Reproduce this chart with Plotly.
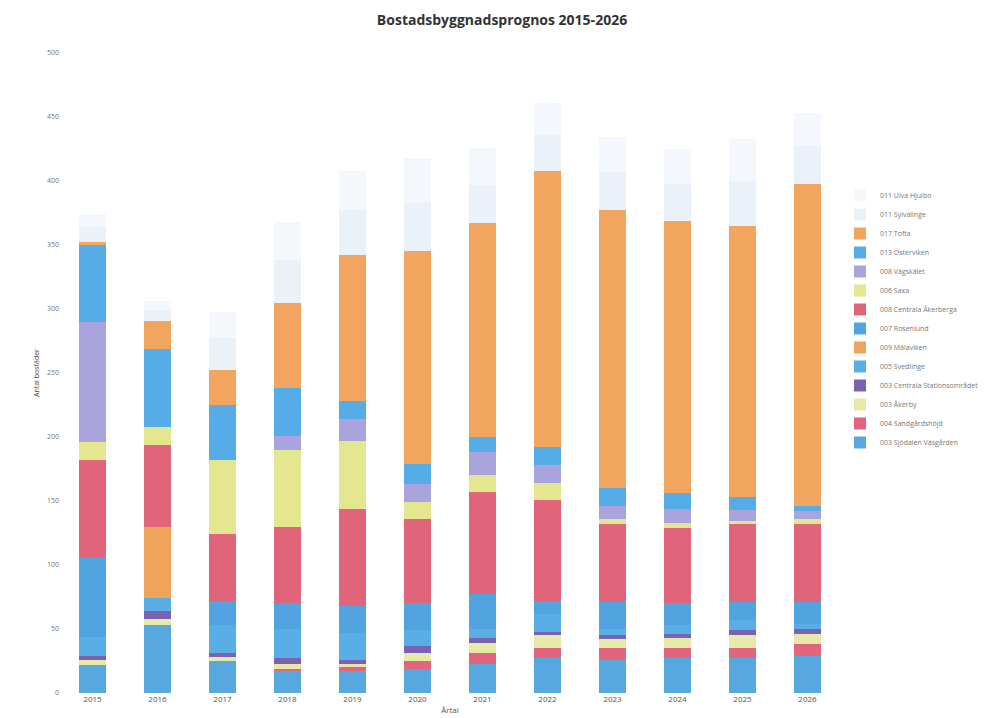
import plotly.graph_objects as go

years = ["2015", "2016", "2017", "2018", "2019", "2020", "2021", "2022", "2023", "2024", "2025", "2026"]

# Legend order top -> bottom (S1 .. S14); stacked bottom -> top is S14 .. S1
names = [
    "011 Ulva Hjulbo",
    "011 Sylvalinge",
    "017 Tofta",
    "013 Österviken",
    "008 Vägskälet",
    "006 Saxa",
    "008 Centrala Åkerberga",
    "007 Rosenlund",
    "009 Mälaviken",
    "005 Svedlinge",
    "003 Centrala Stationsområdet",
    "003 Åkerby",
    "004 Sandgårdshöjd",
    "003 Sjödalen Väsgården",
]

s1 = [10, 7, 21, 30, 31, 35, 29, 25, 27, 27, 33, 26]
s2 = [12, 8, 25, 33, 35, 38, 30, 28, 30, 29, 35, 29]
s3 = [2, 22, 27, 67, 114, 166, 167, 216, 217, 213, 212, 252]
s4 = [60, 61, 43, 37, 14, 16, 12, 14, 14, 12, 10, 4]
s5 = [94, 0, 0, 11, 17, 14, 18, 14, 10, 11, 9, 6]
s6 = [14, 14, 58, 60, 53, 13, 13, 13, 4, 4, 2, 4]
s7 = [76, 64, 52, 60, 76, 66, 80, 79, 61, 59, 61, 61]
s8 = [62, 0, 19, 20, 21, 21, 27, 10, 21, 17, 14, 17]
s9 = [0, 56, 0, 0, 0, 0, 0, 0, 0, 0, 0, 0]
s10 = [15, 10, 22, 23, 21, 12, 7, 14, 5, 7, 8, 4]
s11 = [3, 6, 3, 4, 3, 6, 4, 3, 3, 3, 4, 4]
s12 = [4, 5, 3, 4, 3, 6, 8, 10, 7, 8, 10, 8]
s13 = [0, 0, 0, 2, 3, 6, 8, 8, 9, 8, 8, 9]
s14 = [22, 53, 25, 17, 17, 19, 23, 27, 26, 27, 27, 29]

series = [s1, s2, s3, s4, s5, s6, s7, s8, s9, s10, s11, s12, s13, s14]

colors = [
    "#f4f7fb", "#eaf1f9", "#f2a55e", "#56ace6", "#aaa4dc", "#e4e690", "#e0647a",
    "#52a4e0", "#f0a35a", "#5aaee6", "#7a62b0", "#e6e9a8", "#e2657e", "#58a8e0",
]

fig = go.Figure()
for i in range(len(series) - 1, -1, -1):
    fig.add_trace(go.Bar(
        x=years, y=series[i], name=names[i],
        marker=dict(color=colors[i], line=dict(width=0)),
    ))

fig.update_layout(
    barmode="stack",
    bargap=0.57,
    width=988, height=718,
    paper_bgcolor="white", plot_bgcolor="white",
    margin=dict(l=52, r=150, t=45, b=28),
    title=dict(text="<b>Bostadsbyggnadsprognos 2015-2026</b>", x=0.5, xanchor="center",
               y=0.99, yanchor="top",
               font=dict(family="Open Sans", size=14, color="#333333")),
    legend=dict(traceorder="reversed", x=1.0, xanchor="left", y=0.80, yanchor="top",
                font=dict(family="Open Sans", size=7, color="#777777"),
                itemwidth=30, tracegroupgap=0),
    font=dict(family="Open Sans", color="#666666"),
)
fig.update_xaxes(title=dict(text="Årtal", font=dict(size=8, color="#555555"), standoff=4),
                 tickfont=dict(size=8, color="#555555"), showline=False, ticks="")
fig.update_yaxes(range=[0, 500], dtick=50, showgrid=False, zeroline=False,
                 title=dict(text="Antal bostäder", font=dict(size=7, color="#444444"), standoff=6),
                 tickfont=dict(size=7, color="#777777"))

fig.write_html("out.html")
